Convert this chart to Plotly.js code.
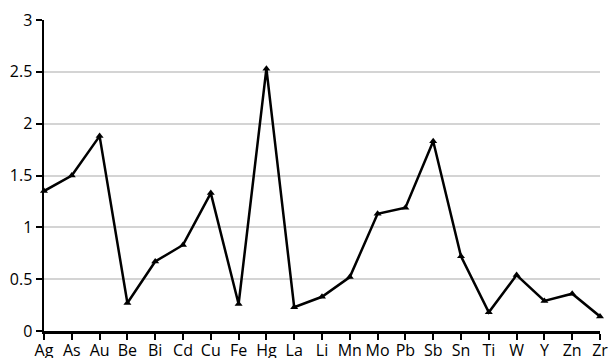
<!DOCTYPE html>
<html>
<head>
<meta charset="utf-8">
<script src="https://cdn.plot.ly/plotly-3.0.1.min.js"></script>
<style>html,body{margin:0;padding:0;background:#fff;}#chart{width:612px;height:358px;}</style>
</head>
<body>
<div id="chart"></div>
<script>
const elements = ["Ag","As","Au","Be","Bi","Cd","Cu","Fe","Hg","La","Li","Mn","Mo","Pb","Sb","Sn","Ti","W","Y","Zn","Zr"];
const values = [1.35,1.50,1.88,0.27,0.67,0.83,1.33,0.26,2.53,0.23,0.33,0.52,1.13,1.19,1.83,0.72,0.18,0.54,0.29,0.36,0.14];
const yTicks = [0,0.5,1,1.5,2,2.5,3];
const yTickLabels = ["0","0.5","1","1.5","2","2.5","3"];

Plotly.newPlot("chart", [{
  x: elements,
  y: values,
  type: "scatter",
  mode: "lines+markers",
  line: {color: "#000", width: 2.5},
  marker: {symbol: "triangle-up", size: 7, color: "#000"},
  cliponaxis: false
}], {
  width: 612, height: 358,
  margin: {l: 43.5, r: 11.5, t: 20, b: 26.5},
  paper_bgcolor: "#fff", plot_bgcolor: "#fff",
  showlegend: false,
  font: {family: "'Open Sans', Lato, sans-serif", size: 16, color: "#000"},
  xaxis: {
    type: "category",
    range: [0, elements.length - 1],
    showgrid: false, zeroline: false,
    showline: true, linecolor: "#000", linewidth: 2.5,
    ticks: "outside", ticklen: 6, tickwidth: 2, tickcolor: "#000",
    ticklabelstandoff: -3,
    tickfont: {size: 16}, tickangle: 0
  },
  yaxis: {
    range: [0, 3],
    tickvals: yTicks, ticktext: yTickLabels,
    showgrid: true, gridcolor: "#d4d4d4", gridwidth: 2,
    zeroline: false,
    showline: true, linecolor: "#000", linewidth: 2.5,
    ticks: "outside", ticklen: 6, tickwidth: 2, tickcolor: "#000",
    tickfont: {size: 16}
  }
}, {staticPlot: true, displayModeBar: false});
</script>
</body>
</html>
